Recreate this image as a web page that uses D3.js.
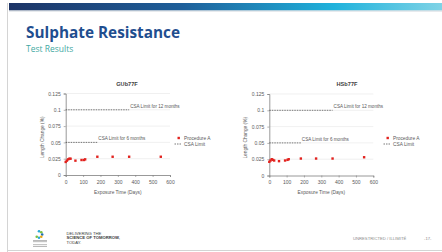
<!DOCTYPE html>
<html>
<head>
<meta charset="utf-8">
<script src="https://cdn.jsdelivr.net/npm/d3@7"></script>
<style>
  html, body { margin: 0; padding: 0; background: #ffffff; }
  svg { display: block; }
  text { font-family: "Liberation Sans", Arial, sans-serif; }
</style>
</head>
<body>
<svg id="slide" width="442" height="252"></svg>
<script>
// data
const days = [0, 7, 14, 21, 28, 56, 91, 105, 112, 182, 270, 365, 547];
const gub77f = [0.020, 0.022, 0.024, 0.025, 0.025, 0.022, 0.023, 0.023, 0.024, 0.028, 0.028, 0.028, 0.028];
const hsb77f = [0.021, 0.023, 0.025, 0.024, 0.023, 0.022, 0.023, 0.024, 0.025, 0.026, 0.026, 0.026, 0.028];
const yTicks = [0, 0.025, 0.05, 0.075, 0.1, 0.125];
const yTickLabels = ["0", "0.025", "0.05", "0.075", "0.1", "0.125"];
const xTicks = [0, 100, 200, 300, 400, 500, 600];
const limits = [
  { label: "CSA Limit for 12 months", value: 0.1, days: 365 },
  { label: "CSA Limit for 6 months", value: 0.05, days: 182 }
];
const legendLabels = ["Procedure A", "CSA Limit"];

const svg = d3.select("#slide");

// slide frame
svg.append("line").attr("x1", 7.5).attr("x2", 7.5).attr("y1", 3).attr("y2", 252)
  .attr("stroke", "#d4d4d4").attr("stroke-width", 1);
svg.append("line").attr("x1", 7.5).attr("x2", 442).attr("y1", 250.5).attr("y2", 250.5)
  .attr("stroke", "#d4d4d4").attr("stroke-width", 1);

// header bar
const grad = svg.append("defs").append("linearGradient").attr("id", "bar");
grad.append("stop").attr("offset", "0%").attr("stop-color", "#1d3466");
grad.append("stop").attr("offset", "40%").attr("stop-color", "#1e5f9a");
grad.append("stop").attr("offset", "75%").attr("stop-color", "#1fb2dc");
grad.append("stop").attr("offset", "100%").attr("stop-color", "#7fd3e6");
svg.append("rect").attr("x", 9).attr("y", 3).attr("width", 433).attr("height", 7.5)
  .attr("fill", "url(#bar)");
svg.append("rect").attr("x", 9).attr("y", 10.5).attr("width", 433).attr("height", 1)
  .attr("fill", "#cfd6dc");

svg.append("text").attr("x", 26).attr("y", 37.8)
  .attr("font-size", 15.5).attr("font-weight", "bold").attr("fill", "#1f4e8f")
  .style("font-family", "'Open Sans', sans-serif")
  .attr("textLength", 154).attr("lengthAdjust", "spacingAndGlyphs")
  .text("Sulphate Resistance");
svg.append("text").attr("x", 26).attr("y", 51.5)
  .attr("font-size", 8.5).attr("fill", "#3fa8a2")
  .style("font-family", "'Open Sans', sans-serif")
  .text("Test Results");

// charts
function drawChart(cfg) {
  const g = svg.append("g");
  const x = d3.scaleLinear().domain([0, 600]).range([cfg.x0, cfg.x1]);
  const y = d3.scaleLinear().domain([0, 0.125]).range([cfg.y0, cfg.y1]);

  // gridlines
  g.selectAll(".grid").data(yTicks.slice(1)).join("line")
    .attr("x1", x(0)).attr("x2", x(600))
    .attr("y1", d => y(d)).attr("y2", d => y(d))
    .attr("stroke", "#e6e6e6").attr("stroke-width", 0.6);

  const yAxis = g.append("g").attr("transform", `translate(${x(0)},0)`)
    .call(d3.axisLeft(y).tickValues(yTicks)
      .tickFormat((d, i) => yTickLabels[i]).tickSize(2).tickPadding(3));
  const xAxis = g.append("g").attr("transform", `translate(0,${y(0)})`)
    .call(d3.axisBottom(x).tickValues(xTicks).tickSize(2).tickPadding(3));
  [yAxis, xAxis].forEach(a => {
    a.select(".domain").attr("stroke", "#7f7f7f").attr("stroke-width", 0.8);
    a.selectAll(".tick line").attr("stroke", "#7f7f7f").attr("stroke-width", 0.6);
    a.selectAll("text").attr("font-size", 5).attr("fill", "#595959")
      .style("font-family", "'Liberation Sans', sans-serif");
  });

  // limit lines
  limits.forEach(l => {
    g.append("line")
      .attr("x1", x(0)).attr("x2", x(l.days))
      .attr("y1", y(l.value)).attr("y2", y(l.value))
      .attr("stroke", "#404040").attr("stroke-width", 0.7)
      .attr("stroke-dasharray", "1.5,1");
    g.append("text").attr("x", x(l.days) + 1).attr("y", y(l.value) - 2)
      .attr("font-size", 4.6).attr("fill", "#595959").text(l.label);
  });

  // points
  g.selectAll(".pt").data(days.map((d, i) => [d, cfg.values[i]])).join("rect")
    .attr("x", d => x(d[0]) - 1.2).attr("y", d => y(d[1]) - 1.2)
    .attr("width", 2.4).attr("height", 2.4).attr("fill", "#e2231f");

  // titles
  g.append("text").attr("x", cfg.titleX).attr("y", 86)
    .attr("text-anchor", "middle").attr("font-size", 5.6).attr("font-weight", "bold")
    .attr("fill", "#404040").text(cfg.title);
  g.append("text").attr("transform", `translate(${cfg.yLabelX},${(cfg.y0 + cfg.y1) / 2 + 3}) rotate(-90)`)
    .attr("text-anchor", "middle").attr("font-size", 4.8).attr("fill", "#595959")
    .text("Length Change (%)");
  g.append("text").attr("x", (cfg.x0 + cfg.x1) / 2).attr("y", 193.5)
    .attr("text-anchor", "middle").attr("font-size", 4.8).attr("fill", "#595959")
    .text("Exposure Time (Days)");

  // legend
  g.append("rect").attr("x", cfg.legX + 3).attr("y", 136.8).attr("width", 2.4).attr("height", 2.4)
    .attr("fill", "#e2231f");
  g.append("line").attr("x1", cfg.legX).attr("x2", cfg.legX + 7)
    .attr("y1", 144).attr("y2", 144)
    .attr("stroke", "#404040").attr("stroke-width", 0.7).attr("stroke-dasharray", "1.5,1");
  legendLabels.forEach((t, i) => {
    g.append("text").attr("x", cfg.legX + 9.5).attr("y", 139.7 + i * 6)
      .attr("font-size", 4.8).attr("fill", "#595959").text(t);
  });
}

drawChart({ title: "GUb77F", values: gub77f, x0: 65.7, x1: 170, y0: 175, y1: 93.5,
  titleX: 127, yLabelX: 43.5, legX: 174.5 });
drawChart({ title: "HSb77F", values: hsb77f, x0: 269.3, x1: 373.3, y0: 175.5, y1: 94,
  titleX: 347, yLabelX: 246.5, legX: 383.5 });

// footer
const logo = svg.append("g").attr("transform", "translate(33,230)");
const petals = ["#2aa9d6", "#7ac143", "#1c6fb5", "#f1a90f", "#2aa9d6", "#7ac143"];
petals.forEach((c, i) => {
  const a = -Math.PI / 2 + i * Math.PI / 4;
  logo.append("circle").attr("cx", 6 + Math.cos(a) * 3.2).attr("cy", 4.5 + Math.sin(a) * 3.2)
    .attr("r", 1.3).attr("fill", c);
});
[10, 11.5, 14.5, 16].forEach(yy => {
  logo.append("rect").attr("x", 0).attr("y", yy).attr("width", 14).attr("height", 0.6).attr("fill", "#8a8a8a");
});

const foot = svg.append("g").attr("font-size", 4.2).attr("fill", "#3a3a3a");
foot.append("text").attr("x", 66.5).attr("y", 234.5).text("DELIVERING THE");
foot.append("text").attr("x", 66.5).attr("y", 239.2).attr("font-weight", "bold").text("SCIENCE OF TOMORROW,");
foot.append("text").attr("x", 66.5).attr("y", 243.9).text("TODAY.");
svg.append("text").attr("x", 353).attr("y", 240.3).attr("font-size", 4.2).attr("fill", "#8c8c8c")
  .text("UNRESTRICTED / ILLIMITÉ");
svg.append("text").attr("x", 424).attr("y", 240.3).attr("font-size", 4.2).attr("fill", "#8c8c8c")
  .text("-17-");
</script>
</body>
</html>
